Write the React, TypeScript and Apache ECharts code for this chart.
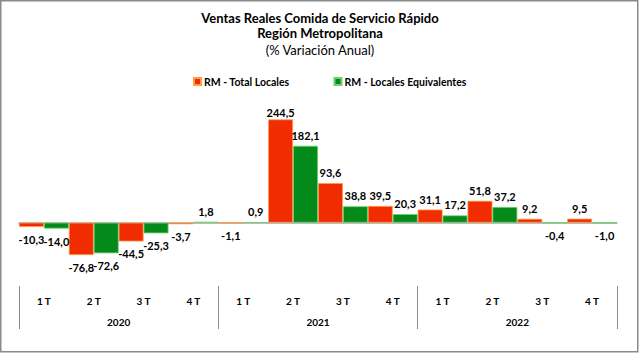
import React, { useEffect, useRef } from "react";
import * as echarts from "echarts";

const quarters = ["1 T", "2 T", "3 T", "4 T", "1 T", "2 T", "3 T", "4 T", "1 T", "2 T", "3 T", "4 T"];
const years = ["2020", "2021", "2022"];
const totalLocales = [-10.3, -76.8, -44.5, -3.7, -1.1, 244.5, 93.6, 39.5, 31.1, 51.8, 9.2, 9.5];
const localesEquivalentes = [-14.0, -72.6, -25.3, 1.8, 0.9, 182.1, 38.8, 20.3, 17.2, 37.2, -0.4, -1.0];
const seriesNames = ["RM - Total Locales", "RM - Locales Equivalentes"];
const titleLines = ["Ventas Reales Comida de Servicio Rápido", "Región Metropolitana", "(% Variación Anual)"];

const FONT = "Lato, 'Noto Sans', sans-serif";
const RED = "#F02C00";
const GREEN = "#048A1A";

const fmt = (v: number) => v.toFixed(1).replace(".", ",");

function buildData(values: number[]) {
  const max = Math.max(...values);
  return values.map((v) => ({
    value: v,
    label: {
      position: v < 0 ? "bottom" : "top",
      distance: v < 0 ? 7 : v === max && v > 200 ? 1 : 5,
    },
  }));
}

export default function App() {
  const ref = useRef<HTMLDivElement>(null);
  useEffect(() => {
    if (!ref.current) return;
    const chart = echarts.init(ref.current, undefined, { renderer: "svg" });
    const labelStyle = {
      show: true,
      formatter: (p: any) => fmt(p.value),
      color: "#000",
      fontFamily: FONT,
      fontWeight: "bold" as const,
      fontSize: 11,
    };
    const titleStyle = (w: string) => ({ fontFamily: FONT, fontWeight: w, fontSize: 13, color: "#000" });
    chart.setOption({
      animation: false,
      backgroundColor: "#fff",
      title: [
        { text: titleLines[0], left: "center", top: 11, padding: 0, textStyle: titleStyle("bold") },
        { text: titleLines[1], left: "center", top: 26, padding: 0, textStyle: titleStyle("bold") },
        { text: titleLines[2], left: "center", top: 43, padding: 0, textStyle: titleStyle("normal") },
      ],
      legend: {
        data: seriesNames,
        left: 188,
        top: 71,
        itemWidth: 7,
        itemHeight: 7,
        itemGap: 44,
        icon: "rect",
        textStyle: { fontFamily: FONT, fontWeight: "bold", fontSize: 10.5, color: "#000", padding: [0, 0, 0, -2] },
      },
      graphic: [
        {
          type: "rect",
          shape: { x: 0.75, y: 0.75, width: 637, height: 351 },
          style: { fill: "none", stroke: "#8a8a8a", lineWidth: 1.5 },
          silent: true,
        },
      ],
      grid: { left: 19, right: 23, top: 96, height: 190 },
      xAxis: [
        {
          type: "category",
          data: quarters,
          axisLine: { show: true, onZero: true, lineStyle: { color: "#a6a6a6", width: 1.5 } },
          axisTick: { show: false },
          axisLabel: { show: false },
          splitLine: { show: false },
        },
        {
          type: "category",
          data: quarters,
          position: "bottom",
          axisLine: { show: false, onZero: false },
          axisTick: { show: false },
          axisLabel: {
            interval: 0,
            margin: 10,
            fontFamily: FONT,
            fontWeight: "bold",
            fontSize: 10,
            color: "#000",
          },
        },
        {
          type: "category",
          data: years,
          position: "bottom",
          axisLine: { show: false, onZero: false },
          axisTick: { show: true, interval: 0, length: 43, lineStyle: { color: "#8c8c8c", width: 1 } },
          axisLabel: {
            interval: 0,
            margin: 31,
            fontFamily: FONT,
            fontWeight: "bold",
            fontSize: 10,
            color: "#000",
          },
        },
      ],
      yAxis: {
        type: "value",
        min: -150,
        max: 300,
        show: false,
        splitLine: { show: false },
      },
      series: [
        {
          name: seriesNames[0],
          type: "bar",
          xAxisIndex: 0,
          data: buildData(totalLocales),
          barGap: "0%",
          barCategoryGap: "0%",
          itemStyle: { color: RED, borderColor: "#FF9A4A", borderWidth: 0.8 },
          label: labelStyle,
        },
        {
          name: seriesNames[1],
          type: "bar",
          xAxisIndex: 0,
          data: buildData(localesEquivalentes),
          barGap: "0%",
          barCategoryGap: "0%",
          itemStyle: { color: GREEN, borderColor: "#6FD06F", borderWidth: 0.8 },
          label: labelStyle,
        },
      ],
    });
    return () => chart.dispose();
  }, []);
  return (
    <div
      ref={ref}
      style={{ position: "absolute", left: 0, top: 0, width: 640, height: 353 }}
    />
  );
}
